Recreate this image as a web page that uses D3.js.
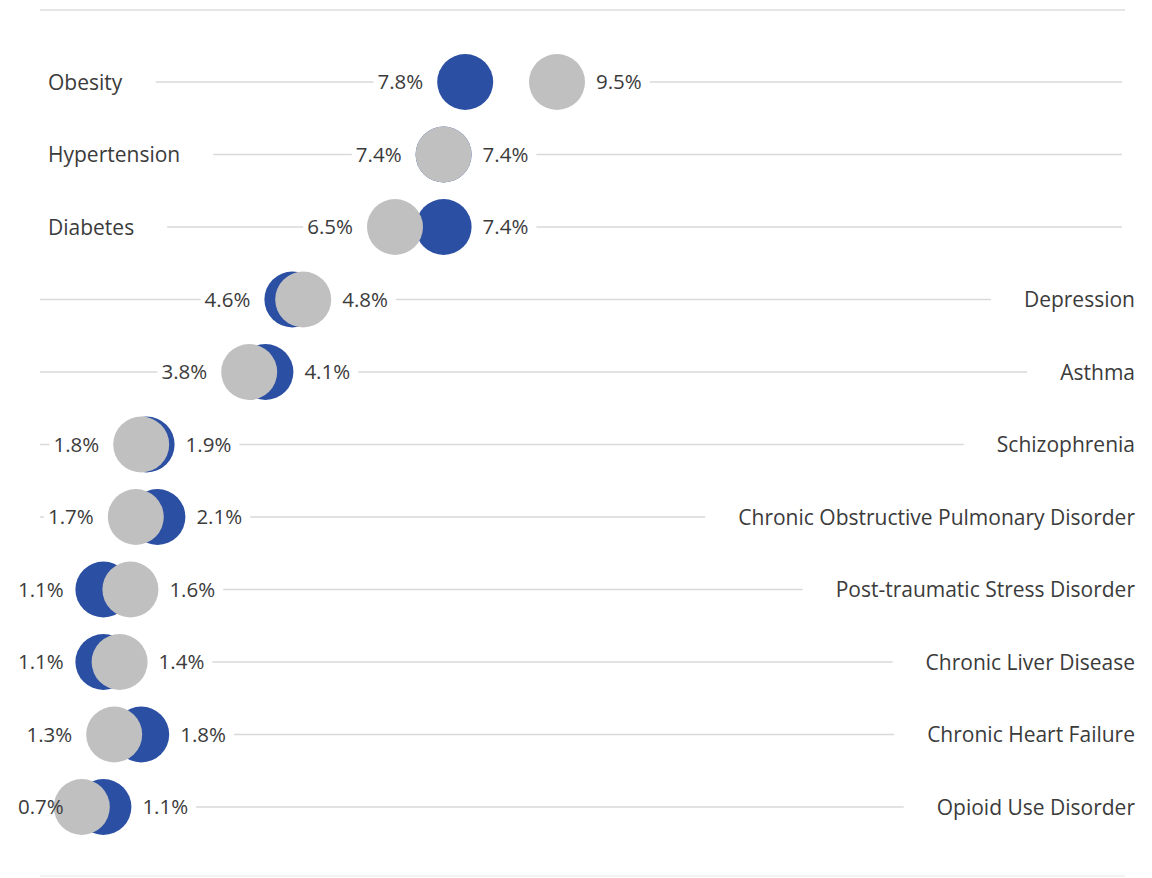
<!DOCTYPE html>
<html>
<head>
<meta charset="utf-8">
<script src="https://cdn.jsdelivr.net/npm/d3@7"></script>
<style>
  body { margin: 0; background: #fff; }
  text { font-family: "Open Sans", sans-serif; fill: #3b3b3b; }
</style>
</head>
<body>
<div id="chart"></div>
<script>
// rates by condition, two groups (blue vs gray)
var conditions = ['Obesity', 'Hypertension', 'Diabetes', 'Depression', 'Asthma', 'Schizophrenia',
  'Chronic Obstructive Pulmonary Disorder', 'Post-traumatic Stress Disorder',
  'Chronic Liver Disease', 'Chronic Heart Failure', 'Opioid Use Disorder'];
var blueVals = [7.8, 7.4, 7.4, 4.6, 4.1, 1.9, 2.1, 1.1, 1.1, 1.8, 1.1];
var grayVals = [9.5, 7.4, 6.5, 4.8, 3.8, 1.8, 1.7, 1.6, 1.4, 1.3, 0.7];

var width = 1152, height = 878;
var svg = d3.select('#chart').append('svg')
  .attr('width', width)
  .attr('height', height);

var x = d3.scaleLinear().domain([0, 10]).range([44, 584]);
var y = d3.scalePoint().domain(conditions).range([82, 807]);
var r = 28;
var lineL = 40, lineR = 1122;

var rows = conditions.map(function(c, i) {
  return { name: c, blue: blueVals[i], gray: grayVals[i] };
});

// frame lines top / bottom
svg.append('line').attr('x1', lineL).attr('x2', 1125).attr('y1', 10).attr('y2', 10)
  .attr('stroke', '#dcdcdc').attr('stroke-width', 1.5);
svg.append('line').attr('x1', lineL).attr('x2', 1125).attr('y1', 876).attr('y2', 876)
  .attr('stroke', '#eeeeee').attr('stroke-width', 1.5);

var g = svg.append('g');

rows.forEach(function(d) {
  var cy = y(d.name);
  var lo = Math.min(d.blue, d.gray), hi = Math.max(d.blue, d.gray);
  var labelLeft = lo > 5;   // wide rows keep their name on the left

  var row = g.append('g');
  var lines = row.append('g');

  row.append('circle')
    .attr('cx', x(d.blue)).attr('cy', cy).attr('r', r)
    .attr('fill', '#2b4fa3');
  row.append('circle')
    .attr('cx', x(d.gray)).attr('cy', cy).attr('r', r)
    .attr('fill', '#c0c0c0');

  // value labels
  var loTxt = row.append('text')
    .attr('x', x(lo) - r - 14).attr('y', cy).attr('dy', '0.36em')
    .attr('text-anchor', 'end').style('font-size', '20.5px')
    .text(lo.toFixed(1) + '%');
  var lb = loTxt.node().getBBox();
  if (lb.x < 18) {
    loTxt.attr('text-anchor', 'start').attr('x', 18);
    lb = loTxt.node().getBBox();
  }
  var hiTxt = row.append('text')
    .attr('x', x(hi) + r + 11).attr('y', cy).attr('dy', '0.36em')
    .style('font-size', '20.5px')
    .text(hi.toFixed(1) + '%');

  var name = row.append('text')
    .attr('y', cy).attr('dy', '0.36em')
    .style('font-size', '21px')
    .text(d.name);
  if (labelLeft) {
    name.attr('x', 48);
  } else {
    name.attr('x', 1135).attr('text-anchor', 'end');
  }

  var loStart = lb.x;
  var hb = hiTxt.node().getBBox();
  var hiEnd = hb.x + hb.width;
  var nb = name.node().getBBox();

  var segs = labelLeft
    ? [[nb.x + nb.width + 33, loStart - 4], [hiEnd + 8, lineR]]
    : [[lineL, loStart - 4], [hiEnd + 8, nb.x - 33]];

  segs.forEach(function(s) {
    if (s[1] - s[0] < 2) return;
    lines.append('line')
      .attr('x1', s[0]).attr('x2', s[1])
      .attr('y1', cy).attr('y2', cy)
      .attr('stroke', '#d9d9d9').attr('stroke-width', 1.5);
  });
});
</script>
</body>
</html>
